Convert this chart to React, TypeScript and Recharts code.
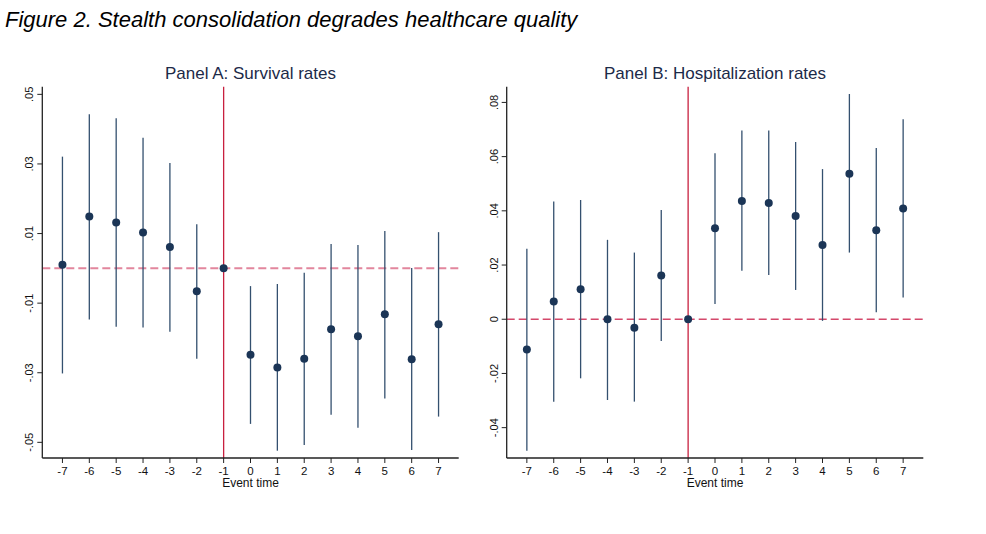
import { ScatterChart, Scatter, XAxis, YAxis, ErrorBar, ReferenceLine } from 'recharts'

const eventTimes = [-7, -6, -5, -4, -3, -2, -1, 0, 1, 2, 3, 4, 5, 6, 7]

// Panel A: survival rates (point estimate + 95% CI)
const survivalEst = [0.001, 0.0149, 0.0132, 0.0103, 0.0061, -0.0066, 0, -0.0248, -0.0285, -0.026, -0.0175, -0.0195, -0.0132, -0.0261, -0.0161]
const survivalHi = [0.0321, 0.0443, 0.0431, 0.0375, 0.0303, 0.0127, 0, -0.0051, -0.0045, -0.0013, 0.007, 0.0067, 0.0107, 0.0001, 0.0104]
const survivalLo = [-0.0302, -0.0147, -0.0168, -0.017, -0.0182, -0.026, 0, -0.0447, -0.0524, -0.0508, -0.0421, -0.0458, -0.0374, -0.0522, -0.0426]
const survivalTicks = [0.05, 0.03, 0.01, -0.01, -0.03, -0.05]
const survivalTickLabels = ['.05', '.03', '.01', '-.01', '-.03', '-.05']

// Panel B: hospitalization rates
const hospEst = [-0.0112, 0.0065, 0.0111, 0.0, -0.0031, 0.0161, 0, 0.0336, 0.0436, 0.0429, 0.0381, 0.0274, 0.0537, 0.0328, 0.0409]
const hospHi = [0.026, 0.0434, 0.044, 0.0293, 0.0246, 0.0403, 0, 0.0612, 0.0696, 0.0696, 0.0654, 0.0554, 0.0831, 0.0632, 0.0738]
const hospLo = [-0.0485, -0.0304, -0.0218, -0.0298, -0.0304, -0.008, 0, 0.0056, 0.0179, 0.0163, 0.0108, -0.0006, 0.0246, 0.0026, 0.008]
const hospTicks = [0.08, 0.06, 0.04, 0.02, 0, -0.02, -0.04]
const hospTickLabels = ['.08', '.06', '.04', '.02', '0', '-.02', '-.04']

const FONT = '"Liberation Sans", Arial, sans-serif'
const DOT = '#1b3556'
const CI = '#34506f'
const VLINE = '#c8203f'

function buildRows(est: number[], lo: number[], hi: number[]) {
  return eventTimes.map((t, i) => ({ t, est: est[i], err: [est[i] - lo[i], hi[i] - est[i]] }))
}

interface PanelProps {
  title: string
  est: number[]
  lo: number[]
  hi: number[]
  yDomain: [number, number]
  yTicks: number[]
  yLabels: string[]
  left: number
  marginLeft: number
  marginRight: number
  dashColor: string
  dashWidth: number
}

function Panel(p: PanelProps) {
  const rows = buildRows(p.est, p.lo, p.hi)
  const W = 480
  const H = 500
  const plotLeft = p.left + p.marginLeft + 40
  const plotRight = p.left + W - p.marginRight
  return (
    <>
      <div
        style={{
          position: 'absolute', left: plotLeft, top: 65, width: plotRight - plotLeft,
          textAlign: 'center', fontFamily: FONT, fontSize: 17, lineHeight: 1, color: '#1c2a48',
        }}
      >
        {p.title}
      </div>
      <div style={{ position: 'absolute', left: p.left, top: 0 }}>
        <ScatterChart
          width={W}
          height={H}
          margin={{ top: 86.7, right: p.marginRight, bottom: 2, left: p.marginLeft }}
        >
          <XAxis
            type="number"
            dataKey="t"
            domain={[-7.75, 7.75]}
            ticks={eventTimes}
            allowDataOverflow
            height={40}
            tickSize={5}
            axisLine={{ stroke: '#222', strokeWidth: 1.3 }}
            tickLine={{ stroke: '#222', strokeWidth: 1 }}
            tick={({ x, y, payload }: any) => (
              <text x={x} y={y + 9.5} textAnchor="middle" fontFamily={FONT} fontSize={11.5} fill="#111">
                {payload.value}
              </text>
            )}
            label={({ viewBox }: any) => (
              <text
                x={viewBox.x + viewBox.width / 2}
                y={viewBox.y + 29.2}
                textAnchor="middle"
                fontFamily={FONT}
                fontSize={12}
                fill="#111"
              >
                Event time
              </text>
            )}
          />
          <YAxis
            type="number"
            dataKey="est"
            domain={p.yDomain}
            ticks={p.yTicks}
            allowDataOverflow
            width={40}
            tickSize={5}
            axisLine={{ stroke: '#222', strokeWidth: 1.3 }}
            tickLine={{ stroke: '#222', strokeWidth: 1 }}
            tick={({ x, y, payload }: any) => {
              const idx = p.yTicks.indexOf(payload.value)
              return (
                <g transform={`translate(${x - 2},${y}) rotate(-90)`}>
                  <text x={0} y={0} textAnchor="middle" fontFamily={FONT} fontSize={11} fill="#111">
                    {p.yLabels[idx]}
                  </text>
                </g>
              )
            }}
          />
          <ReferenceLine y={0} stroke={p.dashColor} strokeWidth={p.dashWidth} strokeDasharray="8 4" />
          <ReferenceLine x={-1} stroke={VLINE} strokeWidth={1.3} />
          <Scatter
            data={rows}
            isAnimationActive={false}
            shape={(s: any) => <circle cx={s.cx} cy={s.cy} r={4} fill={DOT} />}
          >
            <ErrorBar dataKey="err" direction="y" width={0} stroke={CI} strokeWidth={1.3} />
          </Scatter>
        </ScatterChart>
      </div>
    </>
  )
}

export default function App() {
  return (
    <div style={{ position: 'absolute', left: 0, top: 0, width: 986, height: 534, background: '#fff' }}>
      <div
        style={{
          position: 'absolute', left: 5, top: 8.5, fontFamily: FONT, fontStyle: 'italic',
          fontSize: 22, lineHeight: 1, color: '#000', whiteSpace: 'nowrap',
        }}
      >
        Figure 2. Stealth consolidation degrades healthcare quality
      </div>
      <Panel
        title="Panel A: Survival rates"
        est={survivalEst}
        lo={survivalLo}
        hi={survivalHi}
        yDomain={[-0.0545, 0.0522]}
        yTicks={survivalTicks}
        yLabels={survivalTickLabels}
        left={0}
        marginLeft={2.3}
        marginRight={21.3}
        dashColor="#e2869d"
        dashWidth={2}
      />
      <Panel
        title="Panel B: Hospitalization rates"
        est={hospEst}
        lo={hospLo}
        hi={hospHi}
        yDomain={[-0.0512, 0.0858]}
        yTicks={hospTicks}
        yLabels={hospTickLabels}
        left={460}
        marginLeft={6.7}
        marginRight={16.7}
        dashColor="#d4486b"
        dashWidth={1.4}
      />
    </div>
  )
}
